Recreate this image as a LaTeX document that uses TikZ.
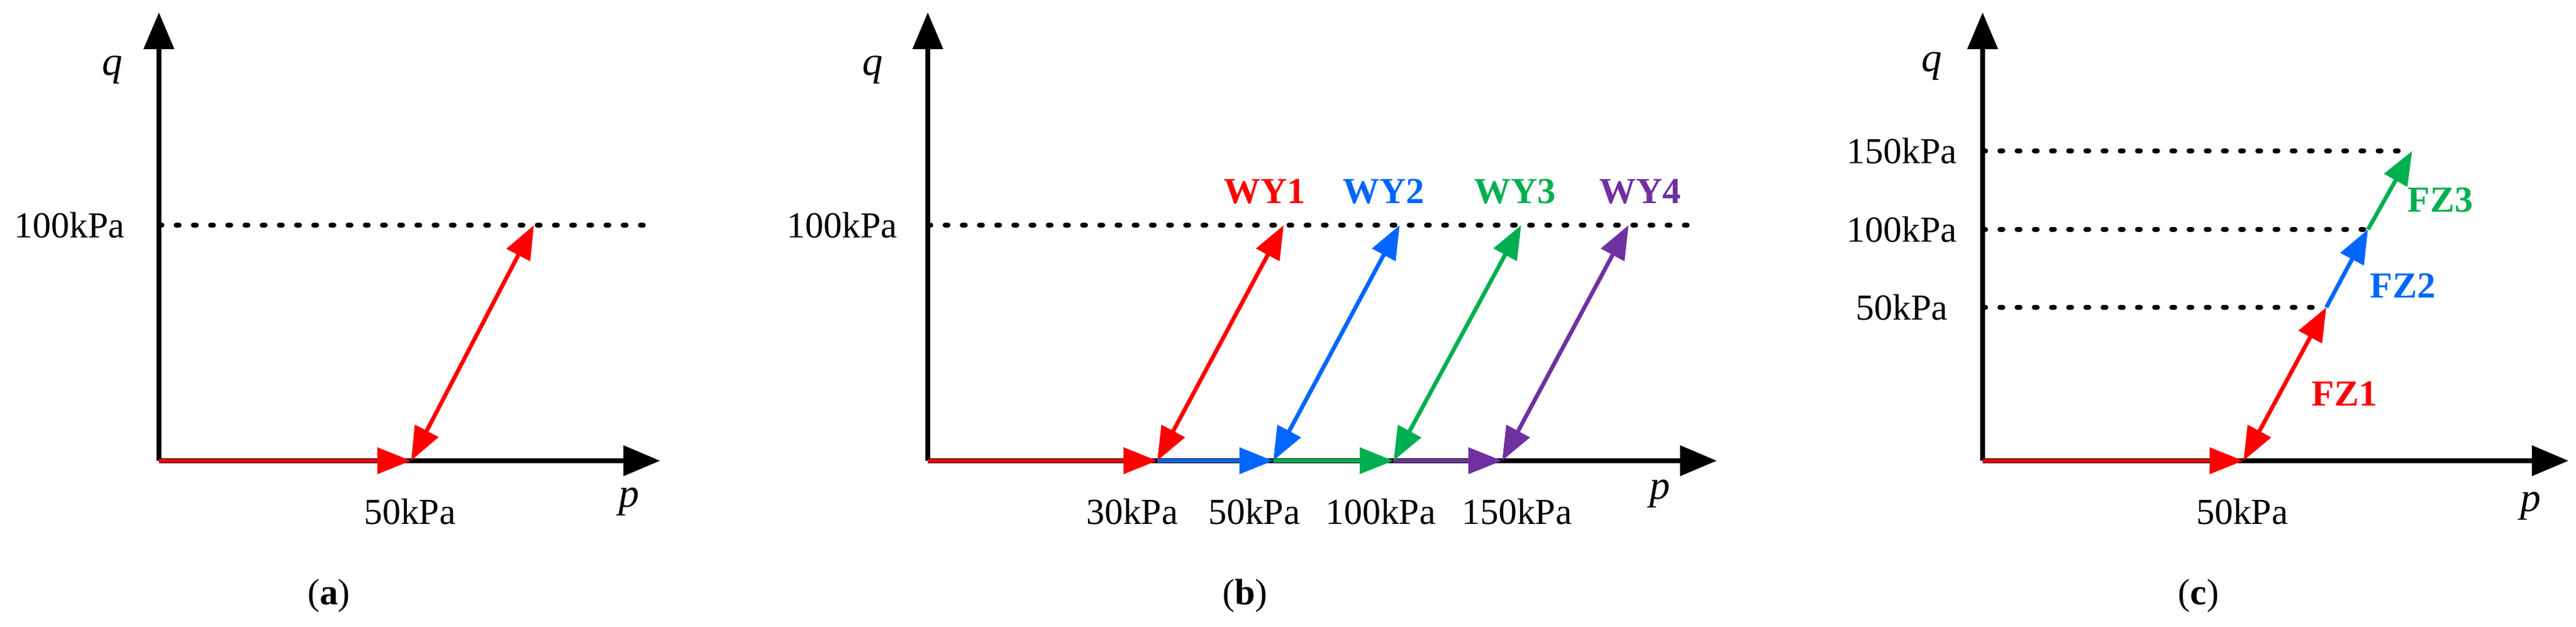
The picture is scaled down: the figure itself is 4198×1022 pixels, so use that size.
\documentclass[tikz,border=0pt]{standalone}
\usepackage{fontspec}
\setmainfont{Liberation Serif}
\usetikzlibrary{arrows.meta}
\definecolor{cred}{HTML}{FF0000}
\definecolor{cblue}{HTML}{0066FF}
\definecolor{cgreen}{HTML}{00B050}
\definecolor{cpurple}{HTML}{7030A0}
\tikzset{
  axis/.style={line width=2.4pt,-{Triangle[length=0.6cm,width=0.48cm]}},
  seg/.style={line width=1.9pt,-{Triangle[length=0.55cm,width=0.42cm]}},
  dseg/.style={line width=1.9pt,{Triangle[length=0.55cm,width=0.42cm]}-{Triangle[length=0.55cm,width=0.42cm]}},
  dotline/.style={line width=2.2pt,dash pattern=on 0.05cm off 0.23cm,line cap=round},
  lbl/.style={font=\fontsize{17}{20}\selectfont,inner sep=0pt},
  clbl/.style={font=\fontsize{17}{20}\selectfont\bfseries,inner sep=0pt},
  ax/.style={font=\fontsize{19}{22}\selectfont\itshape,inner sep=0pt}
}
\begin{document}
\begin{tikzpicture}[x=0.01cm,y=-0.01cm]
\useasboundingbox (0,0) rectangle (4198,1022);
% ---------- (a)
\coordinate (aO) at (259,751);
\coordinate (aT) at (259,20);
\coordinate (aR) at (1076,751);
\coordinate (aB) at (670,751);
\coordinate (aU) at (870,367);
\coordinate (aD0) at (259,367);
\coordinate (aD1) at (1067,367);
\draw[dotline] (aD0) -- (aD1);
\draw[axis] (aO) -- (aT);
\draw[axis] (aO) -- (aR);
\draw[seg,cred] (aO) -- (aB);
\draw[dseg,cred] (aB) -- (aU);
\node[lbl,anchor=east] (aL1) at (204,367) {100kPa};
\node[lbl] (aL2) at (668,834) {50kPa};
\node[ax] (aq) at (183,114) {q};
\node[ax] (ap) at (1025,818) {p};
\node[lbl] (acap) at (536,971) {(\textbf{a})};
% ---------- (b)
\coordinate (bO) at (1512,751);
\coordinate (bT) at (1512,20);
\coordinate (bR) at (2798,751);
\coordinate (b1) at (1886,751);
\coordinate (b2) at (2075,751);
\coordinate (b3) at (2271,751);
\coordinate (b4) at (2448,751);
\coordinate (t1) at (2092,367);
\coordinate (t2) at (2281,367);
\coordinate (t3) at (2479,367);
\coordinate (t4) at (2654,367);
\coordinate (bD0) at (1512,367);
\coordinate (bD1) at (2764,367);
\draw[dotline] (bD0) -- (bD1);
\draw[axis] (bO) -- (bT);
\draw[axis] (bO) -- (bR);
\draw[seg,cred] (bO) -- (b1);
\draw[seg,cblue] (b1) -- (b2);
\draw[seg,cgreen] (b2) -- (b3);
\draw[seg,cpurple] (b3) -- (b4);
\draw[dseg,cred] (b1) -- (t1);
\draw[dseg,cblue] (b2) -- (t2);
\draw[dseg,cgreen] (b3) -- (t3);
\draw[dseg,cpurple] (b4) -- (t4);
\node[clbl,cred] (w1) at (2061,312) {WY1};
\node[clbl,cblue] (w2) at (2255,312) {WY2};
\node[clbl,cgreen] (w3) at (2469,312) {WY3};
\node[clbl,cpurple] (w4) at (2673,312) {WY4};
\node[lbl,anchor=east] (bL0) at (1463,367) {100kPa};
\node[lbl] (bL1) at (1845,834) {30kPa};
\node[lbl] (bL2) at (2044,834) {50kPa};
\node[lbl] (bL3) at (2250,834) {100kPa};
\node[lbl] (bL4) at (2472,834) {150kPa};
\node[ax] (bq) at (1422,114) {q};
\node[ax] (bp) at (2705,805) {p};
\node[lbl] (bcap) at (2029,971) {(\textbf{b})};
% ---------- (c)
\coordinate (cO) at (3231,751);
\coordinate (cT) at (3231,20);
\coordinate (cR) at (4186,751);
\coordinate (cB) at (3656,751);
\coordinate (c1) at (3791,501);
\coordinate (c2) at (3859,374);
\coordinate (c3) at (3931,246);
\draw[dotline] (3231,501) coordinate (cd1) -- (c1);
\draw[dotline] (3231,374) coordinate (cd2) -- (c2);
\draw[dotline] (3231,246) coordinate (cd3) -- (c3);
\draw[axis] (cO) -- (cT);
\draw[axis] (cO) -- (cR);
\draw[seg,cred] (cO) -- (cB);
\draw[dseg,cred] (cB) -- (c1);
\draw[seg,cblue] (c1) -- (c2);
\draw[seg,cgreen] (c2) -- (c3);
\node[clbl,cred] (f1) at (3821,642) {FZ1};
\node[clbl,cblue] (f2) at (3916,466) {FZ2};
\node[clbl,cgreen] (f3) at (3977,326) {FZ3};
\node[lbl,anchor=east] (cL3) at (3190,246) {150kPa};
\node[lbl,anchor=east] (cL2) at (3190,374) {100kPa};
\node[lbl,anchor=east] (cL1) at (3175,501) {50kPa};
\node[lbl] (cLb) at (3654,834) {50kPa};
\node[ax] (cq) at (3148,108) {q};
\node[ax] (cp) at (4124,825) {p};
\node[lbl] (ccap) at (3583,971) {(\textbf{c})};
\end{tikzpicture}
\end{document}
